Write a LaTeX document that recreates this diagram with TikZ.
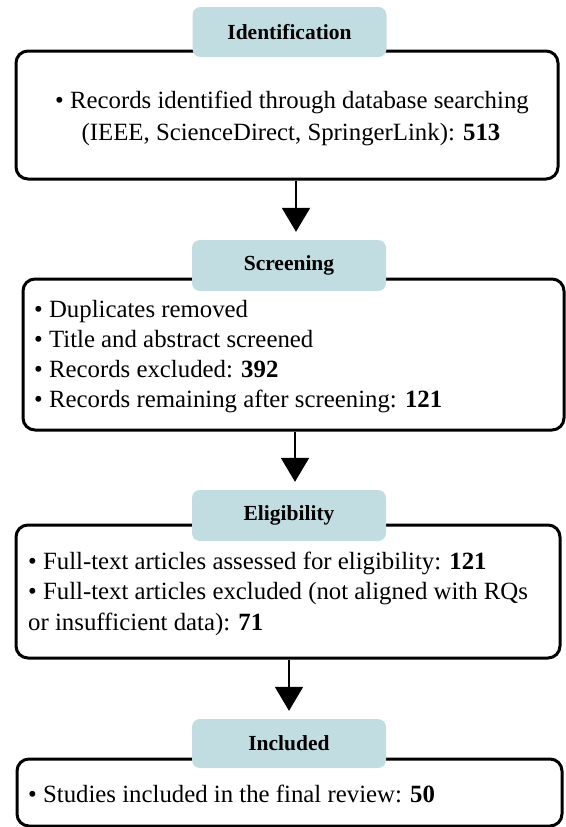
\documentclass[tikz,border=0pt]{standalone}
\usepackage{fontspec}
\setmainfont{Liberation Serif}
\usetikzlibrary{arrows.meta}
\definecolor{hdrfill}{RGB}{193,221,226}
\begin{document}
\begin{tikzpicture}[x=1pt,y=-1pt,
  mainbox/.style={draw=black, line width=3pt, rounded corners=12pt, inner sep=0pt},
  hdr/.style={fill=hdrfill, rounded corners=8pt, inner sep=0pt, minimum width=194pt, font=\fontsize{21.5}{24}\selectfont\bfseries},
  txt/.style={inner sep=0pt, font=\fontsize{24.8}{30}\selectfont},
  flow/.style={line width=2pt, -{Triangle[width=28pt,length=24pt]}}
]
\useasboundingbox (0,0) rectangle (565,827);
% boxes
\node[mainbox, minimum width=542pt, minimum height=128pt] (b1) at (287,115) {};
\node[mainbox, minimum width=541pt, minimum height=151pt] (b2) at (293.5,354.5) {};
\node[mainbox, minimum width=544pt, minimum height=133pt] (b3) at (288,591.5) {};
\node[mainbox, minimum width=545pt, minimum height=67pt] (b4) at (289.5,792.5) {};
% headers
\node[hdr, minimum height=50pt] (h1) at (289.5,32) {Identification};
\node[hdr, minimum height=51pt] (h2) at (289,265.5) {Screening};
\node[hdr, minimum height=51pt] (h3) at (289,515.5) {Eligibility};
\node[hdr, minimum height=49pt] (h4) at (289,743.5) {Included};
% texts
\node[txt, anchor=base] (t11) at (292,108) {• Records identified through database searching};
\node[txt, anchor=base] (t12) at (291,140) {(IEEE, ScienceDirect, SpringerLink): \textbf{513}};
\node[txt, anchor=base west] (t21) at (34,317) {• Duplicates removed};
\node[txt, anchor=base west] (t22) at (34,347) {• Title and abstract screened};
\node[txt, anchor=base west] (t23) at (34,377) {• Records excluded: \textbf{392}};
\node[txt, anchor=base west] (t24) at (34,407) {• Records remaining after screening: \textbf{121}};
\node[txt, anchor=base west] (t31) at (28,569) {• Full-text articles assessed for eligibility: \textbf{121}};
\node[txt, anchor=base west] (t32) at (28,599) {• Full-text articles excluded (not aligned with RQs};
\node[txt, anchor=base west] (t33) at (28,630) {or insufficient data): \textbf{71}};
\node[txt, anchor=base west] (t41) at (28,802) {• Studies included in the final review: \textbf{50}};
% arrows
\draw[flow] ([xshift=9pt]b1.south) -- ([xshift=7pt,yshift=8pt]h2.north);
\draw[flow] ([xshift=1.5pt]b2.south) -- ([xshift=6pt,yshift=8pt]h3.north);
\draw[flow] ([xshift=1pt]b3.south) -- ([yshift=8pt]h4.north);
\end{tikzpicture}
\end{document}
